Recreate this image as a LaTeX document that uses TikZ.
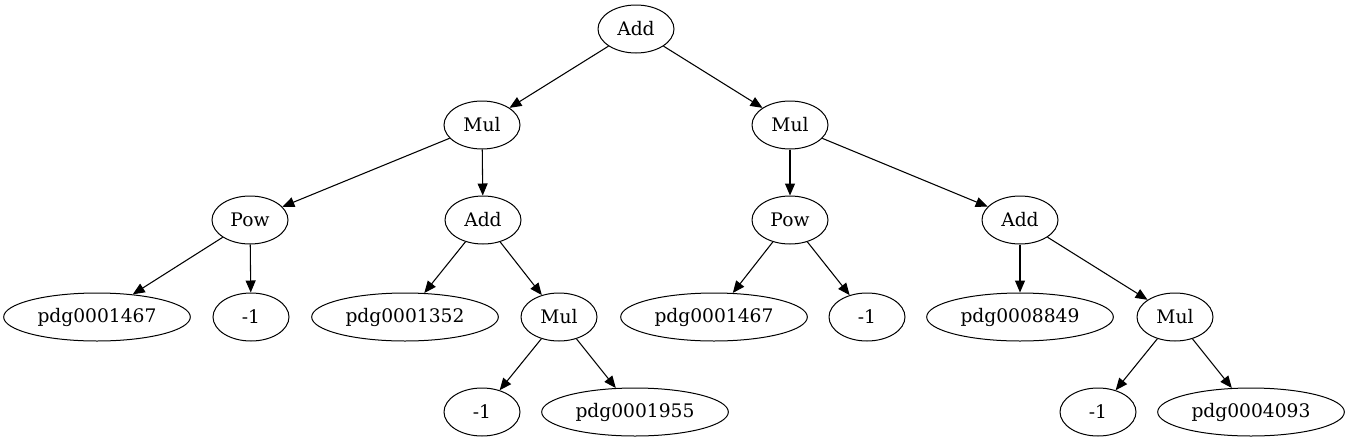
\documentclass[tikz,border=0pt]{standalone}
\usepackage{fontspec}
\setmainfont{DejaVu Serif}
\usetikzlibrary{shapes.geometric,arrows.meta}

\begin{document}
\begin{tikzpicture}[
    x=0.75pt, y=-0.75pt,
    op/.style={ellipse, draw, line width=0.75pt, inner sep=0pt, minimum width=57pt, minimum height=36pt, font=\fontsize{14}{17}\selectfont},
    sym/.style={op, minimum width=140pt},
    line/.style={draw, line width=0.8pt, -{Triangle[length=9pt,width=7.5pt]}}
]
    \useasboundingbox (0,0) rectangle (1349,443);

    \node [op] (root) at (636,29) {Add};
    \node [op] (mulL) at (482,125) {Mul};
    \node [op] (mulR) at (790,125) {Mul};

    \node [op] (powL) at (250,220) {Pow};
    \node [op] (addL) at (483,220) {Add};
    \node [op] (powR) at (790,220) {Pow};
    \node [op] (addR) at (1020,220) {Add};

    \node [sym] (pdgA) at (97,317) {pdg0001467};
    \node [op] (negA) at (251,317) {-1};
    \node [sym] (pdgB) at (405,317) {pdg0001352};
    \node [op] (mulC) at (559,317) {Mul};
    \node [sym] (pdgC) at (714,317) {pdg0001467};
    \node [op] (negC) at (867,317) {-1};
    \node [sym] (pdgD) at (1020,317) {pdg0008849};
    \node [op] (mulD) at (1175,317) {Mul};

    \node [op] (negE) at (482,412) {-1};
    \node [sym] (pdgE) at (635,412) {pdg0001955};
    \node [op] (negF) at (1098,412) {-1};
    \node [sym] (pdgF) at (1251,412) {pdg0004093};

    \draw [line] (root) -- (mulL);
    \draw [line] (root) -- (mulR);
    \draw [line] (mulL) -- (powL);
    \draw [line] (mulL) -- (addL);
    \draw [line] (mulR) -- (powR);
    \draw [line] (mulR) -- (addR);
    \draw [line] (powL) -- (pdgA);
    \draw [line] (powL) -- (negA);
    \draw [line] (addL) -- (pdgB);
    \draw [line] (addL) -- (mulC);
    \draw [line] (powR) -- (pdgC);
    \draw [line] (powR) -- (negC);
    \draw [line] (addR) -- (pdgD);
    \draw [line] (addR) -- (mulD);
    \draw [line] (mulC) -- (negE);
    \draw [line] (mulC) -- (pdgE);
    \draw [line] (mulD) -- (negF);
    \draw [line] (mulD) -- (pdgF);
\end{tikzpicture}
\end{document}
